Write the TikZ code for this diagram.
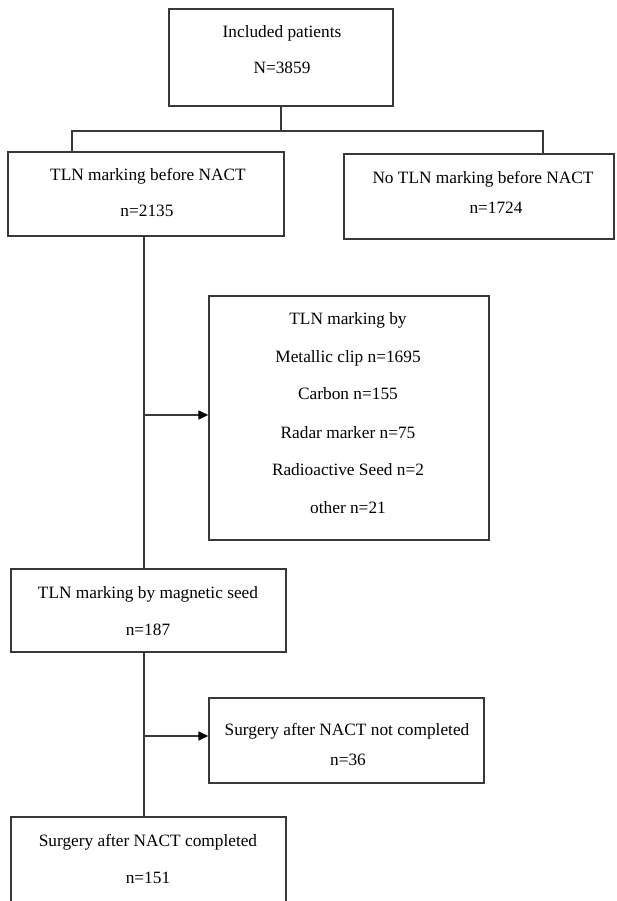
\documentclass[tikz,border=0pt]{standalone}
\usepackage{fontspec}
\setmainfont{Liberation Serif}
\usetikzlibrary{arrows.meta}
\begin{document}
\begin{tikzpicture}[x=1pt,y=-1pt,
  box/.style={draw=black!78,line width=1.4pt,inner sep=0pt,rectangle},
  txt/.style={inner sep=0pt,anchor=base,font=\fontsize{17.3}{20}\selectfont},
  conn/.style={draw=black!78,line width=1.4pt},
  arr/.style={conn,-{Triangle[length=10pt,width=9pt,fill=black,color=black]}}]
\useasboundingbox (0,0) rectangle (616,901);
\clip (0,0) rectangle (616,901);
% boxes
\node[box,minimum width=224pt,minimum height=97pt] (b1) at (281,57.5) {};
\node[box,minimum width=276pt,minimum height=84pt] (b2) at (146,194) {};
\node[box,minimum width=270pt,minimum height=85pt] (b3) at (479,196.5) {};
\node[box,minimum width=280pt,minimum height=244pt] (b4) at (349,418) {};
\node[box,minimum width=275pt,minimum height=83pt] (b5) at (148.5,610.5) {};
\node[box,minimum width=275pt,minimum height=85pt] (b6) at (346.5,740.5) {};
\node[box,minimum width=275pt,minimum height=86pt] (b7) at (148.5,860) {};
% texts
\node[txt] (t1a) at (282,38) {Included patients};
\node[txt] (t1b) at (282,74) {N=3859};
\node[txt] (t2a) at (148,181) {TLN marking before NACT};
\node[txt] (t2b) at (147,217) {n=2135};
\node[txt] (t3a) at (483,184) {No TLN marking before NACT};
\node[txt] (t3b) at (496,214) {n=1724};
\node[txt] (t4a) at (348,324) {TLN marking by};
\node[txt] (t4b) at (348,362) {Metallic clip n=1695};
\node[txt] (t4c) at (348,399) {Carbon n=155};
\node[txt] (t4d) at (348,438) {Radar marker n=75};
\node[txt] (t4e) at (348,475) {Radioactive Seed n=2};
\node[txt] (t4f) at (348,513) {other n=21};
\node[txt] (t5a) at (148,598) {TLN marking by magnetic seed};
\node[txt] (t5b) at (148,635) {n=187};
\node[txt] (t6a) at (347,735) {Surgery after NACT not completed};
\node[txt] (t6b) at (348,765) {n=36};
\node[txt] (t7a) at (148,846) {Surgery after NACT completed};
\node[txt] (t7b) at (148,883) {n=151};
% connectors
\coordinate (hl) at (72,131);
\coordinate (hr) at (543,131);
\coordinate (sp) at (144,0);
\coordinate (a1) at (144,415);
\coordinate (a2) at (144,736);
\draw[conn] (b1.south) -- (b1.south |- hl);
\draw[conn] (b2.north -| hl) -- (hl) -- (hr) -- (b3.north -| hr);
\draw[conn] (b2.south -| sp) -- (b5.north -| sp);
\draw[conn] (b5.south -| sp) -- (b7.north -| sp);
\draw[arr] (a1) -- (a1 -| b4.west);
\draw[arr] (a2) -- (a2 -| b6.west);
\end{tikzpicture}
\end{document}
